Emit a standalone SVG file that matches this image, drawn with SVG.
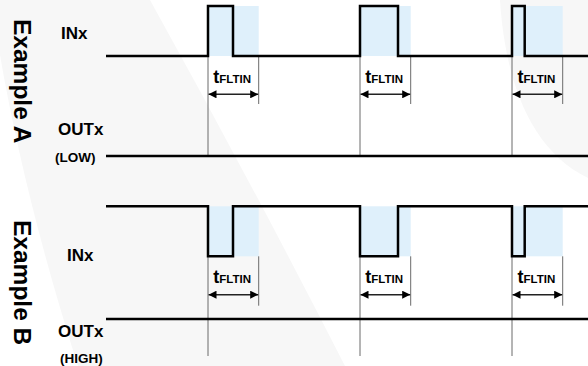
<svg xmlns="http://www.w3.org/2000/svg" width="588" height="366" viewBox="0 0 588 366">
<style>
.sig{fill:none;stroke:#000;stroke-width:2.5;stroke-linejoin:miter}
.guide{stroke:#6a6a6a;stroke-width:1}
.win{fill:#dff0fb}
.dim{stroke:#222;stroke-width:1.5;marker-start:url(#ah);marker-end:url(#ah)}
.lbl{font-family:"Liberation Sans",Arial,sans-serif;font-weight:bold;fill:#000}
.big{font-size:17px}
.sm{font-size:13.5px}
.ex{font-size:24.5px}
.t{font-size:18px}
.sub{font-size:11.5px}
.wm{fill:#f7f7f7}
</style>
<defs>
<marker id="ah" viewBox="0 0 8 8" refX="8" refY="4" markerWidth="8" markerHeight="8" markerUnits="userSpaceOnUse" orient="auto-start-reverse">
<path d="M0,0 L8,4 L0,8 z" fill="#000"/>
</marker>
</defs>
<rect width="588" height="366" fill="#fff"/>
<g id="watermark">
<path class="wm" d="M0,0 L150,0 Q250,180 345,366 L78,366 Q25,200 0,55 Z"/>
<path class="wm" d="M500,0 C505,80 530,150 588,178 L588,0 Z"/>
</g>
<g id="windows">
<rect class="win" x="208" y="6" width="50.7" height="50"/>
<rect class="win" x="360" y="6" width="50.7" height="50"/>
<rect class="win" x="512" y="6" width="50.7" height="50"/>
<rect class="win" x="208" y="206.3" width="50.7" height="50"/>
<rect class="win" x="360" y="206.3" width="50.7" height="50"/>
<rect class="win" x="512" y="206.3" width="50.7" height="50"/>
</g>
<g id="connectors">
<line class="guide" x1="208" y1="56" x2="208" y2="156"/>
<line class="guide" x1="258.7" y1="56" x2="258.7" y2="104"/>
<line class="guide" x1="360" y1="56" x2="360" y2="156"/>
<line class="guide" x1="410.7" y1="56" x2="410.7" y2="104"/>
<line class="guide" x1="512" y1="56" x2="512" y2="156"/>
<line class="guide" x1="562.7" y1="56" x2="562.7" y2="104"/>
<line class="guide" x1="208" y1="256.3" x2="208" y2="356"/>
<line class="guide" x1="258.7" y1="256.3" x2="258.7" y2="305.7"/>
<line class="guide" x1="360" y1="256.3" x2="360" y2="356"/>
<line class="guide" x1="410.7" y1="256.3" x2="410.7" y2="305.7"/>
<line class="guide" x1="512" y1="256.3" x2="512" y2="356"/>
<line class="guide" x1="562.7" y1="256.3" x2="562.7" y2="305.7"/>
<line class="dim" x1="208.5" y1="94.3" x2="258.2" y2="94.3"/>
<line class="dim" x1="360.5" y1="94.3" x2="410.2" y2="94.3"/>
<line class="dim" x1="512.5" y1="94.3" x2="562.2" y2="94.3"/>
<line class="dim" x1="208.5" y1="294.7" x2="258.2" y2="294.7"/>
<line class="dim" x1="360.5" y1="294.7" x2="410.2" y2="294.7"/>
<line class="dim" x1="512.5" y1="294.7" x2="562.2" y2="294.7"/>
</g>
<g id="exampleA">
<text class="lbl ex" transform="translate(14,19) rotate(90)">Example A</text>
<text class="lbl big" x="61" y="39">INx</text>
<text class="lbl big" x="58" y="135">OUTx</text>
<text class="lbl sm" x="55" y="162">(LOW)</text>
<path id="inA" class="sig" d="M106,56 H208 V6 H233 V56 H360 V6 H398 V56 H512 V6 H524.7 V56 H588"/>
<path id="outA" class="sig" d="M106,156 H588"/>
<text class="lbl" x="213.3" y="82.5"><tspan class="t">t</tspan><tspan class="sub">FLTIN</tspan></text>
<text class="lbl" x="365.3" y="82.5"><tspan class="t">t</tspan><tspan class="sub">FLTIN</tspan></text>
<text class="lbl" x="517.5" y="82.5"><tspan class="t">t</tspan><tspan class="sub">FLTIN</tspan></text>
</g>
<g id="exampleB">
<text class="lbl ex" transform="translate(14,220) rotate(90)">Example B</text>
<text class="lbl big" x="67" y="261">INx</text>
<text class="lbl big" x="58" y="337">OUTx</text>
<text class="lbl sm" x="60" y="363">(HIGH)</text>
<path id="inB" class="sig" d="M106,206.3 H208 V256.3 H233 V206.3 H360 V256.3 H398 V206.3 H512 V256.3 H524.7 V206.3 H588"/>
<path id="outB" class="sig" d="M106,319 H588"/>
<text class="lbl" x="213.3" y="282.7"><tspan class="t">t</tspan><tspan class="sub">FLTIN</tspan></text>
<text class="lbl" x="365.3" y="282.7"><tspan class="t">t</tspan><tspan class="sub">FLTIN</tspan></text>
<text class="lbl" x="517.5" y="282.7"><tspan class="t">t</tspan><tspan class="sub">FLTIN</tspan></text>
</g>
</svg>
